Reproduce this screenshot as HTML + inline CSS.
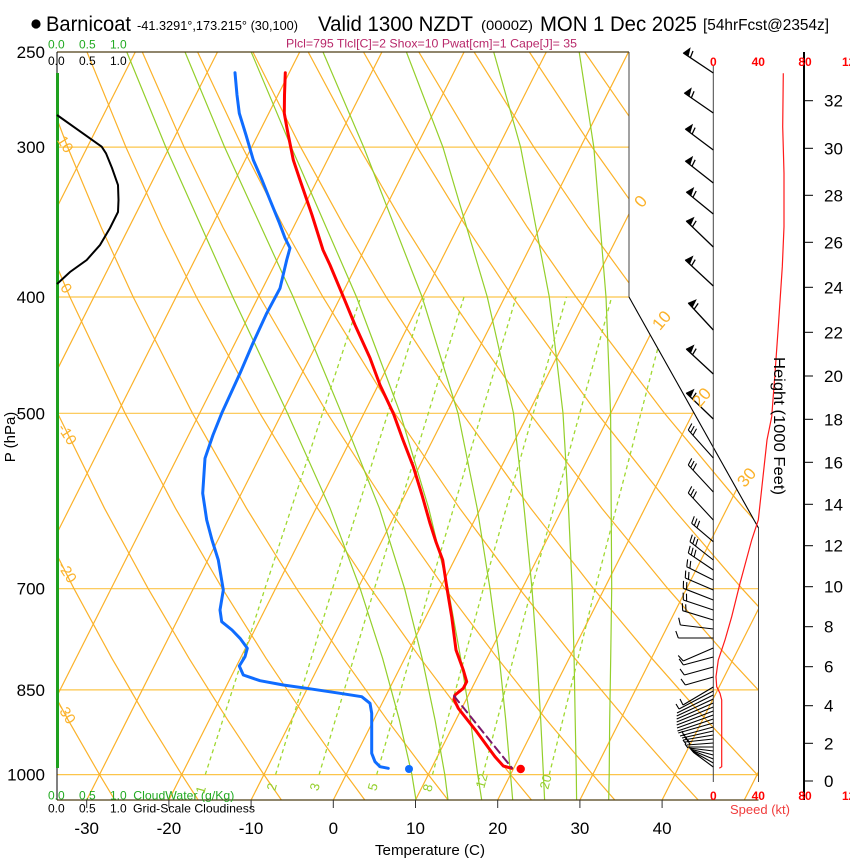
<!DOCTYPE html>
<html><head><meta charset="utf-8"><title>Skew-T Barnicoat</title>
<style>
html,body{margin:0;padding:0;background:#fff;}
svg{display:block;font-family:"Liberation Sans",Arial,sans-serif;}
</style></head><body>
<svg width="850" height="860" viewBox="0 0 850 860" xmlns="http://www.w3.org/2000/svg">
<defs><clipPath id="cp"><path d="M57,52 L629,52 L629,297 L758.5,528 L758.5,800 L57,800 Z"/></clipPath></defs>
<rect x="0" y="0" width="850" height="860" fill="#fff"/>

<g clip-path="url(#cp)" fill="none">
<!-- isobars -->
<g stroke="#fcc54a" stroke-width="1.2">
<line x1="57" y1="147.1" x2="760" y2="147.1"/><line x1="57" y1="297" x2="760" y2="297"/>
<line x1="57" y1="413.3" x2="760" y2="413.3"/><line x1="57" y1="588.7" x2="760" y2="588.7"/>
<line x1="57" y1="689.9" x2="760" y2="689.9"/><line x1="57" y1="774.6" x2="760" y2="774.6"/>
</g>
<!-- isotherms -->
<g stroke="#fbb22a" stroke-width="1.2">
<line x1="-242.1" y1="800" x2="135.3" y2="52"/>
<line x1="-159.9" y1="800" x2="217.5" y2="52"/>
<line x1="-77.7" y1="800" x2="299.7" y2="52"/>
<line x1="4.5" y1="800" x2="381.9" y2="52"/>
<line x1="86.7" y1="800" x2="464.1" y2="52"/>
<line x1="168.9" y1="800" x2="546.3" y2="52"/>
<line x1="251.1" y1="800" x2="628.5" y2="52"/>
<line x1="333.3" y1="800" x2="710.7" y2="52"/>
<line x1="415.5" y1="800" x2="792.9" y2="52"/>
<line x1="497.7" y1="800" x2="875.1" y2="52"/>
<line x1="579.9" y1="800" x2="957.3" y2="52"/>
<line x1="662.1" y1="800" x2="1039.5" y2="52"/>
<line x1="744.3" y1="800" x2="1121.7" y2="52"/>
</g>
<!-- dry adiabats -->
<g stroke="#fbb22a" stroke-width="1.2">
<polyline points="114.8,800 99.5,774.6 68.0,719.7 34.8,658.3 -0.3,588.7 -37.6,508.3"/>
<polyline points="198.1,800 181.7,774.6 147.8,719.7 111.9,658.3 74.0,588.7 33.4,508.3 -9.8,413.3"/>
<polyline points="281.4,800 263.9,774.6 227.5,719.7 189.0,658.3 148.2,588.7 104.5,508.3 57.6,413.3 6.7,297 -20.6,227.4"/>
<polyline points="364.8,800 346.1,774.6 307.3,719.7 266.1,658.3 222.4,588.7 175.5,508.3 125.1,413.3 69.9,297 40.3,227.4 9.3,147.1 -23.6,52"/>
<polyline points="448.1,800 428.3,774.6 387.0,719.7 343.3,658.3 296.6,588.7 246.5,508.3 192.5,413.3 133.2,297 101.2,227.4 67.6,147.1 31.7,52"/>
<polyline points="531.5,800 510.5,774.6 466.8,719.7 420.4,658.3 370.9,588.7 317.6,508.3 259.9,413.3 196.4,297 162.1,227.4 125.9,147.1 87.0,52"/>
<polyline points="614.8,800 592.7,774.6 546.5,719.7 497.5,658.3 445.1,588.7 388.6,508.3 327.3,413.3 259.7,297 223.0,227.4 184.1,147.1 142.3,52"/>
<polyline points="698.2,800 674.9,774.6 626.3,719.7 574.7,658.3 519.4,588.7 459.7,508.3 394.8,413.3 322.9,297 283.9,227.4 242.4,147.1 197.6,52"/>
<polyline points="781.5,800 757.1,774.6 706.0,719.7 651.8,658.3 593.6,588.7 530.7,508.3 462.2,413.3 386.2,297 344.8,227.4 300.6,147.1 252.9,52"/>
<polyline points="864.9,800 839.3,774.6 785.8,719.7 728.9,658.3 667.9,588.7 601.8,508.3 529.7,413.3 449.4,297 405.7,227.4 358.9,147.1 308.2,52"/>
<polyline points="948.2,800 921.5,774.6 865.5,719.7 806.0,658.3 742.1,588.7 672.8,508.3 597.1,413.3 512.7,297 466.6,227.4 417.2,147.1 363.5,52"/>
<polyline points="1031.6,800 1003.7,774.6 945.4,719.7 883.2,658.3 816.4,588.7 743.9,508.3 664.5,413.3 576.0,297 527.5,227.4 475.5,147.1 418.8,52"/>
<polyline points="1115.0,800 1085.9,774.6 1025.2,719.7 960.3,658.3 890.6,588.7 814.9,508.3 731.9,413.3 639.3,297 588.4,227.4 533.8,147.1 474.1,52"/>
<polyline points="1198.3,800 1168.1,774.6 1104.9,719.7 1037.4,658.3 964.9,588.7 886.0,508.3 799.3,413.3 702.6,297 649.3,227.4 592.1,147.1 529.4,52"/>
<polyline points="1281.7,800 1250.3,774.6 1184.7,719.7 1114.5,658.3 1039.1,588.7 957.0,508.3 866.7,413.3 765.9,297 710.2,227.4 650.4,147.1 584.7,52"/>
</g>
<!-- moist adiabats -->
<g stroke="#94cf2b" stroke-width="1.2">
<polyline points="416.0,800 411.9,774.6 399.3,719.7 382.6,658.3 360.2,588.7 330.1,508.3 287.5,413.3 232.8,297 165.8,147.1 126.8,52"/>
<polyline points="448.0,800 444.8,774.6 435.0,719.7 422.1,658.3 404.6,588.7 379.4,508.3 341.5,413.3 293.2,297 224.6,147.1 185.0,52"/>
<polyline points="481.7,800 477.7,774.6 470.4,719.7 460.7,658.3 448.1,588.7 428.7,508.3 400.2,413.3 356.5,297 291.3,147.1 251.2,52"/>
<polyline points="512.7,800 510.5,774.6 505.7,719.7 499.3,658.3 490.0,588.7 477.2,508.3 458.0,413.3 422.1,297 363.7,147.1 323.0,52"/>
<polyline points="544.6,800 543.4,774.6 540.7,719.7 537.1,658.3 532.0,588.7 524.1,508.3 513.5,413.3 487.3,297 442.9,147.1 406.4,52"/>
<polyline points="576.6,800 576.3,774.6 575.2,719.7 574.1,658.3 572.2,588.7 568.5,508.3 563.0,413.3 549.3,297 520.6,147.1 493.7,52"/>
<polyline points="608.7,800 609.2,774.6 609.7,719.7 610.7,658.3 611.7,588.7 611.2,508.3 610.6,413.3 606.0,297 593.8,147.1 579.2,52"/>
</g>
<!-- mixing ratio lines -->
<g stroke="#a0d830" stroke-width="1.3" stroke-dasharray="4,3.5">
<polyline points="205.3,774.6 264.9,588.7 360.7,297"/>
<polyline points="275.6,774.6 332.5,588.7 424.6,297"/>
<polyline points="319.1,774.6 374.4,588.7 464.0,297"/>
<polyline points="376.7,774.6 429.7,588.7 516.1,297"/>
<polyline points="432.5,774.6 483.3,588.7 566.4,297"/>
<polyline points="482.9,774.6 531.6,588.7 611.7,297"/>
<polyline points="549.3,774.6 595.2,588.7 671.2,297"/>
</g>
</g>

<!-- frame -->
<g fill="none">
<line x1="57" y1="52" x2="629" y2="52" stroke="#4d3d14" stroke-width="1.3"/>
<line x1="57" y1="800" x2="758.5" y2="800" stroke="#4d3d14" stroke-width="1.3"/>
<line x1="57" y1="52" x2="57" y2="800" stroke="#000" stroke-width="1"/>
<line x1="629" y1="52" x2="629" y2="297" stroke="#444" stroke-width="1"/>
<line x1="629" y1="297" x2="758.5" y2="528" stroke="#000" stroke-width="1.1"/>
<line x1="758.5" y1="528" x2="758.5" y2="782" stroke="#444" stroke-width="1"/>
<g stroke="#333" stroke-width="1">
<line x1="86.7" y1="800" x2="86.7" y2="808"/><line x1="168.9" y1="800" x2="168.9" y2="808"/>
<line x1="251.1" y1="800" x2="251.1" y2="808"/><line x1="333.3" y1="800" x2="333.3" y2="808"/>
<line x1="415.5" y1="800" x2="415.5" y2="808"/><line x1="497.7" y1="800" x2="497.7" y2="808"/>
<line x1="579.9" y1="800" x2="579.9" y2="808"/><line x1="662.1" y1="800" x2="662.1" y2="808"/>
</g>
<line x1="57.5" y1="73" x2="57.5" y2="768" stroke="#1ea01e" stroke-width="3"/>
<polyline points="57,115 101.7,146.7 106,153.3 112,168 118,185 118.5,200 118,212 110,228 100,245 86.7,260 70,272 57,284" stroke="#000" stroke-width="2"/>
<line x1="713.3" y1="66" x2="713.3" y2="782" stroke="#444" stroke-width="1"/>
<line x1="804" y1="52" x2="804" y2="800" stroke="#000" stroke-width="2"/>
<g stroke="#000" stroke-width="1">
<line x1="804" y1="781" x2="813" y2="781"/><line x1="804" y1="743.3" x2="813" y2="743.3"/>
<line x1="804" y1="705.7" x2="813" y2="705.7"/><line x1="804" y1="666.7" x2="813" y2="666.7"/>
<line x1="804" y1="626.7" x2="813" y2="626.7"/><line x1="804" y1="586.7" x2="813" y2="586.7"/>
<line x1="804" y1="545.7" x2="813" y2="545.7"/><line x1="804" y1="504.3" x2="813" y2="504.3"/>
<line x1="804" y1="462.3" x2="813" y2="462.3"/><line x1="804" y1="419.3" x2="813" y2="419.3"/>
<line x1="804" y1="376" x2="813" y2="376"/><line x1="804" y1="332.3" x2="813" y2="332.3"/>
<line x1="804" y1="287.3" x2="813" y2="287.3"/><line x1="804" y1="242.3" x2="813" y2="242.3"/>
<line x1="804" y1="195.3" x2="813" y2="195.3"/><line x1="804" y1="148.3" x2="813" y2="148.3"/>
<line x1="804" y1="100.7" x2="813" y2="100.7"/>
</g>
<polyline points="783.3,73.3 782.7,126.7 784,173.3 784,226.7 782.3,266.7 778.3,326.7 775,373.3 771.7,416.7 767,440 758.3,520 751.7,540 740,583.3 731.7,616.7 725,640 718.3,660 716,676.7 716.7,686.7 720,693.3 721.7,700 721.7,766.7 719.3,768.3" stroke="#ff1a1a" stroke-width="1.2"/>
</g>

<!-- wind barbs -->
<g fill="none" stroke="#000" stroke-width="1.3">
<g transform="translate(713.3,73) rotate(33.7)"><path d="M0,0H-36.1"/><path d="M-36.1,0h6l-3,-8z" fill="#000" stroke-width="0.6"/><path d="M-27.6,0l-1.5,-7"/></g>
<g transform="translate(713.3,113) rotate(34.6)"><path d="M0,0H-35.2"/><path d="M-35.2,0h6l-3,-8z" fill="#000" stroke-width="0.6"/><path d="M-26.7,0l-1.5,-7"/></g>
<g transform="translate(713.3,150) rotate(36.9)"><path d="M0,0H-35"/><path d="M-35,0h6l-3,-8z" fill="#000" stroke-width="0.6"/><path d="M-26.5,0l-1.5,-7"/></g>
<g transform="translate(713.3,183) rotate(38.2)"><path d="M0,0H-35.6"/><path d="M-35.6,0h6l-3,-8z" fill="#000" stroke-width="0.6"/><path d="M-27.1,0l-1.5,-7"/></g>
<g transform="translate(713.3,214) rotate(39.2)"><path d="M0,0H-34.8"/><path d="M-34.8,0h6l-3,-8z" fill="#000" stroke-width="0.6"/><path d="M-26.3,0l-1.5,-7"/></g>
<g transform="translate(713.3,247) rotate(43.9)"><path d="M0,0H-37.5"/><path d="M-37.5,0h6l-3,-8z" fill="#000" stroke-width="0.6"/><path d="M-29,0l-1.5,-7"/></g>
<g transform="translate(713.3,286) rotate(42.9)"><path d="M0,0H-38.2"/><path d="M-38.2,0h6l-3,-8z" fill="#000" stroke-width="0.6"/><path d="M-29.7,0l-1.5,-7"/></g>
<g transform="translate(713.3,330) rotate(47.2)"><path d="M0,0H-36.8"/><path d="M-36.8,0h6l-3,-8z" fill="#000" stroke-width="0.6"/><path d="M-28.3,0l-1.5,-7"/></g>
<g transform="translate(713.3,374) rotate(42.8)"><path d="M0,0H-36.8"/><path d="M-36.8,0h6l-3,-8z" fill="#000" stroke-width="0.6"/><path d="M-28.3,0l-1.5,-7"/></g>
<g transform="translate(713.3,419) rotate(43.9)"><path d="M0,0H-37.5"/><path d="M-37.5,0h6l-3,-8z" fill="#000" stroke-width="0.6"/><path d="M-29,0l-1.5,-7"/></g>
<g stroke-width="1.1">
<g transform="translate(713.3,458) rotate(48.2)"><path d="M0,0H-37.5M-37.5,0l-2.5,-7M-34,0l-2.5,-7M-30.5,0l-2.5,-7"/></g>
<g transform="translate(713.3,492) rotate(47.2)"><path d="M0,0H-36.8M-36.8,0l-2.5,-7M-33.3,0l-2.5,-7M-29.8,0l-2.5,-7"/></g>
<g transform="translate(713.3,520) rotate(47.2)"><path d="M0,0H-36.8M-36.8,0l-2.5,-7M-33.3,0l-2.5,-7M-29.8,0l-2.5,-7"/></g>
<g transform="translate(713.3,541.7) rotate(40.4)"><path d="M0,0H-28.4M-28.4,0l-2.5,-7M-24.9,0l-2.5,-7M-21.4,0l-2.5,-7"/></g>
<g transform="translate(713.3,560) rotate(38.1)"><path d="M0,0H-29.6M-29.6,0l-2.5,-7M-26.1,0l-2.5,-7M-22.6,0l-2.5,-7"/></g>
<g transform="translate(713.3,570) rotate(34.2)"><path d="M0,0H-30.2M-30.2,0l-2.5,-7M-26.7,0l-2.5,-7M-23.2,0l-2.5,-7"/></g>
<g transform="translate(713.3,580) rotate(26.6)"><path d="M0,0H-29.7M-29.7,0l-2.5,-7M-26.2,0l-2.5,-7"/></g>
<g transform="translate(713.3,590) rotate(23.2)"><path d="M0,0H-30.5M-30.5,0l-2.5,-7M-27,0l-2.5,-7"/></g>
<g transform="translate(713.3,600) rotate(21.3)"><path d="M0,0H-32.2M-32.2,0l-2.5,-7M-28.7,0l-2.5,-7"/></g>
<g transform="translate(713.3,610) rotate(18.4)"><path d="M0,0H-31.6M-31.6,0l-2.5,-7M-28.1,0l-2.5,-7"/></g>
<g transform="translate(713.3,620) rotate(16.9)"><path d="M0,0H-32M-32,0l-2.5,-7M-28.5,0l-2.5,-7"/></g>
<g transform="translate(713.3,629) rotate(6.9)"><path d="M0,0H-33.2M-33.2,0l-2.5,-7"/></g>
<g transform="translate(713.3,638) rotate(0)"><path d="M0,0H-35M-35,0l-2.5,-7"/></g>
<g transform="translate(713.3,648) rotate(-23.4)"><path d="M0,0H-32.7M-32.7,0l-2.5,-7"/></g>
<g transform="translate(713.3,657) rotate(-14.9)"><path d="M0,0H-31M-31,0l-2.5,-7"/></g>
<g transform="translate(713.3,667) rotate(-15.4)"><path d="M0,0H-30.1M-30.1,0l-2.5,-7"/></g>
<g transform="translate(713.3,677) rotate(-15.9)"><path d="M0,0H-29.1M-29.1,0l-2.5,-7"/></g>
</g>
<g stroke-width="1.1">
<path d="M713.3,687L683,705M713.3,691L679,709M713.3,695L677,713M713.3,699L676.7,716M713.3,703L676.7,719M713.3,707L676.7,722M713.3,711L676.7,725M713.3,715L677,728M713.3,719L677.5,731M713.3,723L678.3,733M713.3,727L680,736M713.3,731L682,738M713.3,735L683.3,740M713.3,739L685,742M713.3,743L686.7,745M713.3,747L688,747M713.3,751L689,748M713.3,755L690,749M713.3,759L691,750M713.3,763L692,751M713.3,767L693,752"/>
<path d="M683,705l-3,-6M679,709l-3,-5M684,736l-2,-5M686,739l-2,-5M688,742l-2,-5M690,745l-2,-5M686,744l-3,-4M688,748l-3,-4"/>
</g>
</g>

<!-- profiles -->
<g fill="none" stroke-linejoin="round" stroke-linecap="round">
<polyline points="235,72.7 237,95 239.3,113.3 246,135 253.3,160 262,180 270,200 279,222 285,238 290,248 286.7,260 280,288.3 266.7,313.3 253,343 240,373.3 221.7,413.3 213,435 205,458.3 202.7,493.3 206.7,520 212,540 218.3,560 223.3,590 220,610 221.7,621.7 232,630 240,638.3 247.3,648.3 245,656.7 239.3,666 243.3,675 260,680.7 283.3,685 306.7,688.3 340,693.3 361.7,696.7 370,703.3 371.7,713.3 371.7,753.3 375,761.7 380,766.7 388.3,768.3" stroke="#0f6cff" stroke-width="3"/>
<polyline points="285.3,72.7 284.5,95 284.3,113.3 287.3,130 293.3,160 300,180 312,215 323,250 330,265 343.3,296.7 355,325 370,358 380,385 393.3,413.3 403,440 413.3,466.7 422,495 430,523.3 436,542 442.7,560 446.7,586.7 451.7,616.7 456,650 463.3,670 466.7,681.7 463.3,688.3 455,695 454,699.3 458.3,708.3 476.7,731.7 495,756.7 503.3,766 511.7,768.3" stroke="#ff0000" stroke-width="3"/>
<line x1="454" y1="696" x2="512" y2="768" stroke="#7a1a6a" stroke-width="2" stroke-dasharray="8,5"/>
</g>
<circle cx="409" cy="769" r="4" fill="#0f6cff"/>
<circle cx="520.7" cy="769" r="4.2" fill="#ff0000"/>

<!-- title -->
<circle cx="36" cy="24" r="4.6" fill="#000"/>
<text x="46" y="31" font-size="21" textLength="85" lengthAdjust="spacingAndGlyphs">Barnicoat</text>
<text x="137" y="30" font-size="13" textLength="161" lengthAdjust="spacingAndGlyphs">-41.3291°,173.215° (30,100)</text>
<text x="318" y="31" font-size="21" textLength="155" lengthAdjust="spacingAndGlyphs">Valid 1300 NZDT</text>
<text x="481" y="30" font-size="14" textLength="52" lengthAdjust="spacingAndGlyphs">(0000Z)</text>
<text x="540" y="31" font-size="21" textLength="157" lengthAdjust="spacingAndGlyphs">MON 1 Dec 2025</text>
<text x="703" y="30" font-size="16" textLength="126" lengthAdjust="spacingAndGlyphs">[54hrFcst@2354z]</text>
<text x="286" y="47.7" font-size="12" fill="#b8286a" textLength="291" lengthAdjust="spacingAndGlyphs">Plcl=795 Tlcl[C]=2 Shox=10 Pwat[cm]=1 Cape[J]= 35</text>

<g font-size="12" fill="#22aa22">
<text x="48" y="48.3">0.0</text><text x="79" y="48.3">0.5</text><text x="110" y="48.3">1.0</text>
<text x="48" y="799.3">0.0</text><text x="79" y="799.3">0.5</text><text x="110" y="799.3">1.0</text>
<text x="133.3" y="799.3" textLength="101" lengthAdjust="spacingAndGlyphs">CloudWater (g/Kg)</text>
</g>
<g font-size="12" fill="#000">
<text x="48" y="65">0.0</text><text x="79" y="65">0.5</text><text x="110" y="65">1.0</text>
<text x="48" y="812.3">0.0</text><text x="79" y="812.3">0.5</text><text x="110" y="812.3">1.0</text>
<text x="133" y="812.3" textLength="122" lengthAdjust="spacingAndGlyphs">Grid-Scale Cloudiness</text>
</g>

<g font-size="17" text-anchor="end" fill="#000">
<text x="45" y="58">250</text><text x="45" y="153.1">300</text><text x="45" y="303">400</text>
<text x="45" y="419.3">500</text><text x="45" y="594.7">700</text><text x="45" y="695.9">850</text>
<text x="45" y="780.6">1000</text>
</g>
<text transform="translate(15,437) rotate(-90)" font-size="15" text-anchor="middle">P (hPa)</text>

<g font-size="17" text-anchor="middle" fill="#000">
<text x="86.7" y="834">-30</text><text x="168.9" y="834">-20</text><text x="251.1" y="834">-10</text>
<text x="333.3" y="834">0</text><text x="415.5" y="834">10</text><text x="497.7" y="834">20</text>
<text x="579.9" y="834">30</text><text x="662.1" y="834">40</text>
</g>
<text x="430" y="855" font-size="15" text-anchor="middle" textLength="110" lengthAdjust="spacingAndGlyphs">Temperature (C)</text>

<g font-size="17" fill="#000">
<text x="824" y="787">0</text><text x="824" y="749.3">2</text><text x="824" y="711.7">4</text>
<text x="824" y="672.7">6</text><text x="824" y="632.7">8</text><text x="824" y="592.7">10</text>
<text x="824" y="551.7">12</text><text x="824" y="510.3">14</text><text x="824" y="468.3">16</text>
<text x="824" y="425.3">18</text><text x="824" y="382">20</text><text x="824" y="338.3">22</text>
<text x="824" y="293.3">24</text><text x="824" y="248.3">26</text><text x="824" y="201.3">28</text>
<text x="824" y="154.3">30</text><text x="824" y="106.7">32</text>
</g>
<text transform="translate(774,426) rotate(90)" font-size="16" text-anchor="middle" textLength="138" lengthAdjust="spacingAndGlyphs">Height (1000 Feet)</text>

<g font-size="12" font-weight="bold" fill="#ff0000" text-anchor="middle">
<text x="713.3" y="66">0</text><text x="758.3" y="66">40</text><text x="805" y="66">80</text><text x="852" y="66">120</text>
<text x="713.3" y="800">0</text><text x="758.3" y="800">40</text><text x="805" y="800">80</text><text x="852" y="800">120</text>
</g>
<text x="760" y="814" font-size="13" fill="#f03c3c" text-anchor="middle">Speed (kt)</text>

<g font-size="15" fill="#fbb22a" text-anchor="middle">
<text transform="translate(61,147) rotate(57)">10</text>
<text transform="translate(62,291) rotate(57)">0</text>
<text transform="translate(63,437) rotate(57)">-10</text>
<text transform="translate(63,575) rotate(57)">-20</text>
<text transform="translate(62,716) rotate(57)">-30</text>
</g>
<g font-size="17" fill="#fbb22a" text-anchor="middle">
<text transform="translate(645,205) rotate(-50)">0</text>
<text transform="translate(666,324) rotate(-50)">10</text>
<text transform="translate(706,401) rotate(-50)">20</text>
<text transform="translate(751,481) rotate(-50)">30</text>
</g>
<g font-size="13" fill="#94cf2b" text-anchor="middle">
<text transform="translate(205,791) rotate(-75)">1</text>
<text transform="translate(276,788) rotate(-75)">2</text>
<text transform="translate(319,788) rotate(-75)">3</text>
<text transform="translate(377,788) rotate(-75)">5</text>
<text transform="translate(432,789) rotate(-75)">8</text>
<text transform="translate(486,782) rotate(-75)">12</text>
<text transform="translate(550,783) rotate(-75)">20</text>
</g>
</svg>
</body></html>
